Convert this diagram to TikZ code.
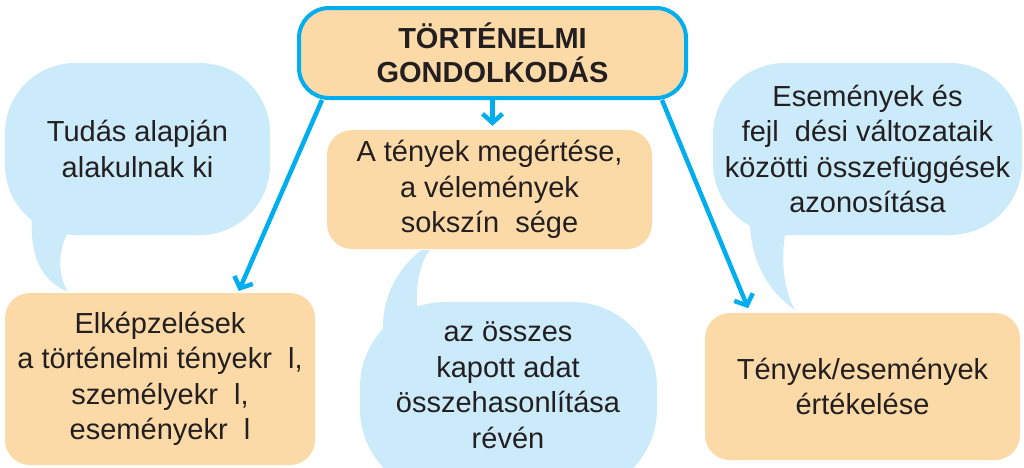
\documentclass[tikz,border=0pt]{standalone}
\usepackage{fontspec}
\setmainfont{Liberation Sans}
\usetikzlibrary{arrows.meta}
\definecolor{boxorange}{HTML}{FCDAA8}
\definecolor{bubblecol}{HTML}{CCEBFA}
\definecolor{arrowblue}{HTML}{00AEEF}
\definecolor{ink}{HTML}{231F20}
\begin{document}
\begin{tikzpicture}[x=1pt,y=-1pt,
  txt/.style={font=\fontsize{29}{35.5}\selectfont, text=ink, align=center},
  obox/.style={txt, fill=boxorange, rounded corners=25pt, inner sep=0pt},
  bbody/.style={fill=bubblecol, inner sep=0pt},
  tailfill/.style={fill=bubblecol},
  arr/.style={draw=arrowblue, line width=4.5pt, -{Straight Barb[length=9pt,width=20pt]}}]
\useasboundingbox (0,0) rectangle (1024,467);
\clip (0,0) rectangle (1024,467);

% bubble tails
\fill[tailfill] (32,200) -- (32,215) .. controls (29,262) and (45,282) .. (68,292)
  .. controls (58,275) and (57,252) .. (69,230) -- (69,200) -- cycle;
\fill[tailfill] (750,200) -- (750,225) .. controls (752,270) and (775,296) .. (795,310)
  .. controls (784,290) and (780,262) .. (786,228) -- (786,200) -- cycle;
\fill[tailfill] (383,340) -- (383,325) .. controls (383,295) and (400,265) .. (422,250)
  -- (430,250) .. controls (420,262) and (416,285) .. (417,305) -- (440,340) -- cycle;

% bubble bodies
\node[bbody, txt, rounded corners=70pt, minimum width=265pt, minimum height=172pt]
  (bubL) at (137.5,149) {Tudás alapján\\alakulnak ki};
\node[bbody, txt, rounded corners=72pt, minimum width=309pt, minimum height=172pt]
  (bubR) at (867.5,149) {Események és\\fejl\phantom{ő}dési változataik\\közötti összefüggések\\azonosítása};
\node[bbody, rounded corners=85pt, minimum width=297pt, minimum height=192pt]
  (bubC) at (508.5,398) {};
\node[txt] (bubCt) at (508,385) {az összes\\kapott adat\\összehasonlítása\\révén};

% title
\node[obox, draw=arrowblue, line width=4pt, rounded corners=30pt,
  minimum width=387pt, minimum height=90pt,
  font=\fontsize{29}{33.5}\selectfont\bfseries] (title) at (492.5,53)
  {TÖRTÉNELMI\\GONDOLKODÁS};

% orange boxes
\node[obox, minimum width=325pt, minimum height=119pt] (boxC) at (489.5,189.5)
  {A tények megértése,\\a vélemények\\sokszín\phantom{ű}sége};
\node[obox, minimum width=310pt, minimum height=172pt] (boxL) at (160,379)
  {Elképzelések\\a történelmi tényekr\phantom{ő}l,\\személyekr\phantom{ő}l,\\eseményekr\phantom{ő}l};
\node[obox, minimum width=315pt, minimum height=147pt] (boxR) at (862.5,386.5)
  {Tények/események\\értékelése};

% arrows
\coordinate (xl0) at (322,0);
\coordinate (xl1) at (238,0);
\coordinate (xr0) at (662,0);
\coordinate (xr1) at (750,0);
\draw[arr, shorten >=2pt] (title.south -| xl0) -- (boxL.north -| xl1);
\draw[arr, shorten >=4pt] (title.south) -- (title.south |- boxC.north);
\draw[arr, shorten >=5pt] (title.south -| xr0) -- (boxR.north -| xr1);
\end{tikzpicture}
\end{document}
